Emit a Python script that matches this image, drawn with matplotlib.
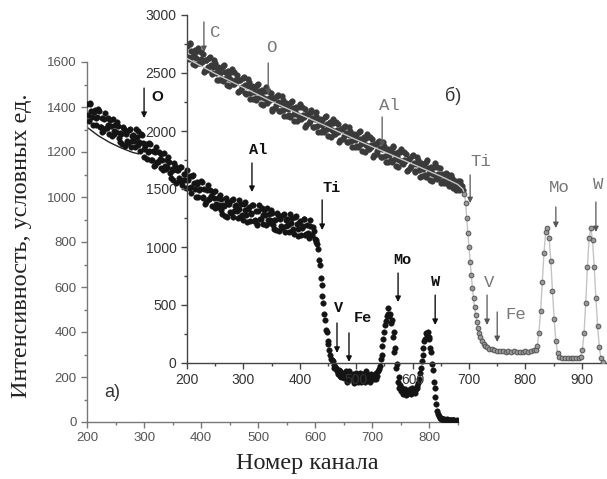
import numpy as np
import matplotlib
matplotlib.use("Agg")
import matplotlib.pyplot as plt
from matplotlib.ticker import MultipleLocator

# ---------------- data: spectrum (a), main axes ----------------
a_channel = np.arange(200, 849, 3)
a_counts = [
    1415, 1339, 1418, 1357, 1376, 1320, 1354, 1383, 1313, 1288,
    1347, 1307, 1352, 1282, 1317, 1348, 1278, 1289, 1314, 1245,
    1280, 1311, 1227, 1284, 1240, 1301, 1247, 1275, 1223, 1267,
    1295, 1205, 1277, 1212, 1227, 1171, 1205, 1235, 1164, 1138,
    1198, 1157, 1201, 1130, 1165, 1194, 1123, 1133, 1157, 1086,
    1120, 1150, 1064, 1118, 1073, 1132, 1076, 1101, 1040, 1074,
    1093, 1018, 1097, 1036, 1056, 1000, 1035, 1068, 997, 971,
    1030, 989, 1033, 962, 996, 1025, 954, 964, 992, 924,
    962, 994, 912, 969, 927, 989, 937, 964, 907, 945,
    968, 896, 979, 922, 945, 893, 931, 964, 897, 875,
    938, 901, 949, 882, 920, 953, 886, 899, 927, 859,
    897, 929, 847, 905, 862, 925, 873, 901, 845, 883,
    906, 834, 917, 860, 883, 831, 869, 902, 835, 842,
    873, 833, 867, 815, 800, 770, 700, 610, 530, 455,
    400, 345, 300, 275, 255, 245, 225, 230, 205, 220,
    195, 215, 180, 225, 190, 205, 175, 220, 195, 210,
    180, 215, 190, 225, 200, 185, 215, 195, 210, 190,
    225, 250, 300, 370, 430, 470, 505, 480, 455, 400,
    330, 260, 200, 165, 150, 135, 145, 125, 140, 130,
    150, 135, 145, 160, 190, 240, 300, 360, 395, 400,
    370, 310, 230, 150, 80, 35, 20, 15, 12, 10,
    12, 8, 10, 7, 9, 6, 8,
]
# second sweep of channels (interleaved readings)
a_channel_2 = np.arange(201.5, 849, 3)
a_counts_2 = [
    1365, 1414, 1383, 1322, 1386, 1350, 1389, 1313, 1353, 1293,
    1372, 1307, 1322, 1342, 1272, 1293, 1318, 1334, 1264, 1285,
    1235, 1301, 1282, 1249, 1300, 1221, 1272, 1250, 1303, 1232,
    1245, 1280, 1242, 1177, 1237, 1201, 1240, 1165, 1204, 1143,
    1223, 1157, 1171, 1190, 1120, 1139, 1163, 1178, 1107, 1126,
    1075, 1140, 1119, 1083, 1133, 1052, 1101, 1076, 1120, 1039,
    1043, 1093, 1062, 1001, 1066, 1030, 1070, 998, 1037, 976,
    1055, 989, 1003, 1022, 951, 970, 994, 1009, 942, 964,
    917, 984, 967, 934, 987, 909, 962, 939, 987, 910,
    918, 971, 944, 887, 955, 923, 966, 894, 937, 880,
    963, 901, 919, 942, 875, 898, 926, 944, 877, 899,
    852, 919, 902, 870, 922, 845, 898, 876, 925, 848,
    856, 909, 882, 825, 893, 861, 904, 832, 875, 817,
    898, 833, 847,
    810, 790, 720, 640, 560, 480, 410, 360, 320, 280,
    270, 240, 240, 215, 225, 200, 215,
    200, 225, 185, 210, 195, 215, 185, 205, 180, 220,
    195, 210, 180, 215, 200, 180, 210, 190, 220, 205,
    235, 280, 340, 400, 450, 480, 470, 440, 380, 310,
    240, 180, 150, 140, 125, 135, 120, 130, 145, 125,
    140, 130, 150, 175, 220, 270, 330, 370, 385, 380,
    330, 260, 180, 110, 50, 25, 18, 14, 12, 9,
    11, 8, 10, 7, 9, 6,
]
a_fit_channel = [200, 220, 240, 260, 280, 290]
a_fit_counts = [1310, 1272, 1242, 1218, 1198, 1192]

# ---------------- data: spectrum (б), inset axes ----------------
b_channel = np.arange(200, 690, 3)
b_counts = [
    2730, 2620, 2756, 2641, 2662, 2567, 2687, 2588, 2683, 2599,
    2509, 2614, 2530, 2630, 2571, 2491, 2616, 2497, 2544, 2440,
    2542, 2434, 2570, 2457, 2478, 2385, 2507, 2408, 2505, 2421,
    2333, 2440, 2356, 2458, 2400, 2322, 2449, 2331, 2379, 2276,
    2378, 2270, 2407, 2295, 2317, 2224, 2346, 2248, 2346, 2263,
    2175, 2283, 2201, 2304, 2247, 2171, 2299, 2182, 2230, 2128,
    2231, 2124, 2262, 2150, 2173, 2082, 2205, 2108, 2206, 2125,
    2038, 2146, 2065, 2168, 2112, 2035, 2163, 2047, 2095, 1994,
    2097, 1990, 2129, 2017, 2041, 1949, 2072, 1976, 2074, 1993,
    1906, 2015, 1933, 2036, 1980, 1903, 2032, 1915, 1963, 1862,
    1965, 1859, 1998, 1886, 1910, 1819, 1942, 1846, 1945, 1864,
    1777, 1886, 1805, 1908, 1852, 1776, 1904, 1788, 1837, 1736,
    1839, 1733, 1872, 1760, 1784, 1693, 1816, 1720, 1819, 1738,
    1651, 1760, 1679, 1782, 1726, 1650, 1778, 1662, 1711, 1610,
    1713, 1607, 1746, 1634, 1658, 1567, 1691, 1594, 1693, 1612,
    1550, 1627, 1555, 1637, 1589, 1527, 1619, 1536, 1568, 1491,
    1568, 1495, 1538, 1495,
]
b_channel_2 = np.arange(201.5, 689, 3)
b_counts_2 = [
    2640, 2750, 2691, 2581, 2697, 2627, 2717, 2583, 2618, 2664,
    2524, 2614, 2550, 2640, 2496, 2556, 2586, 2442, 2554, 2500,
    2452, 2564, 2505, 2397, 2513, 2445, 2537, 2403, 2440, 2486,
    2348, 2440, 2376, 2468, 2325, 2387, 2419, 2276, 2389, 2336,
    2288, 2400, 2342, 2235, 2352, 2284, 2376, 2243, 2281, 2328,
    2190, 2283, 2221, 2314, 2172, 2236, 2269, 2127, 2240, 2188,
    2141, 2254, 2197, 2090, 2208, 2142, 2235, 2103, 2141, 2190,
    2053, 2146, 2085, 2178, 2037, 2100, 2133, 1992, 2105, 2054,
    2007, 2120, 2064, 1957, 2076, 2009, 2102, 1971, 2009, 2058,
    1921, 2015, 1953, 2046, 1905, 1968, 2002, 1860, 1973, 1922,
    1875, 1989, 1933, 1826, 1945, 1879, 1972, 1841, 1880, 1929,
    1792, 1886, 1825, 1918, 1777, 1841, 1874, 1733, 1847, 1796,
    1749, 1863, 1807, 1700, 1819, 1753, 1846, 1715, 1754, 1803,
    1666, 1760, 1699, 1792, 1651, 1715, 1748, 1607, 1721, 1670,
    1623, 1737, 1681, 1574, 1693, 1627, 1721, 1589, 1628, 1677,
    1568, 1620, 1580, 1632, 1543, 1578, 1594, 1505, 1569, 1535,
    1503, 1567, 1530,
]
b_edge_channel = [
    692, 694, 696, 698, 700, 702, 704, 706, 708, 710, 712, 714, 716, 718, 720,
    723, 726, 729, 732, 736, 740,
    745, 750, 755, 760, 765, 770, 775, 780, 785, 790, 795, 800, 805, 810, 815,
    818, 821, 824, 827, 830, 833, 836, 839, 842, 845, 848, 851, 854, 857, 860,
    865, 870, 875, 880, 885, 890, 895,
    898, 901, 904, 907, 910, 913, 916, 919, 922, 925, 928, 931, 934, 937,
]
b_edge_counts = [
    1460, 1380, 1250, 1120, 1000, 870, 760, 650, 560, 480, 410, 350, 300, 260, 225,
    190, 165, 148, 135, 125, 118,
    110, 106, 100, 104, 98, 102, 96, 100, 95, 99, 97, 101, 98, 104, 108,
    115, 150, 260, 450, 700, 950, 1130, 1165, 1080, 880, 620, 380, 190, 90, 55,
    45, 42, 44, 40, 43, 41, 45,
    55, 110, 260, 520, 830, 1080, 1165, 1060, 830, 560, 320, 140, 40, 10,
]
b_fit_channel = [200, 250, 300, 350, 400, 450, 500, 550, 600, 650, 680, 689]
b_fit_counts = [2625, 2495, 2375, 2255, 2145, 2035, 1925, 1820, 1715, 1610, 1540, 1500]

# element markers: (label, arrow x, arrow tail y, arrow tip y, text x, text y)
a_marks = [
    ("O", 300, 1484, 1351, 324, 1444),
    ("Al", 489, 1151, 1022, 500, 1209),
    ("Ti", 612, 987, 853, 629, 1040),
    ("V", 638, 440, 307, 640, 507),
    ("Fe", 659, 396, 267, 683, 462),
    ("Mo", 745, 662, 533, 752, 720),
    ("W", 810, 564, 431, 810, 622),
]
b_marks = [
    ("C", 230, 2940, 2681, 250, 2853),
    ("O", 344, 2586, 2310, 349, 2716),
    ("Al", 546, 2121, 1862, 558, 2216),
    ("Ti", 702, 1621, 1379, 720, 1741),
    ("V", 732, 586, 328, 735, 698),
    ("Fe", 750, 440, 181, 783, 414),
    ("Mo", 854, 1345, 1164, 860, 1517),
    ("W", 925, 1388, 1129, 929, 1543),
]

# ---------------- figure ----------------
fig = plt.figure(figsize=(6.07, 4.79), dpi=100)
fig.patch.set_facecolor("white")

W, H = 607.0, 479.0
ax = fig.add_axes([87 / W, 1 - 422 / H, 371 / W, 360 / H])
axb = fig.add_axes([187 / W, 1 - 363 / H, 423 / W, 348 / H])
axb.patch.set_alpha(0)
ax.patch.set_alpha(0)

# main axes (a)
ax.plot(a_fit_channel, a_fit_counts, color="#222222", lw=1.0, zorder=2)
for xs, ys in ((a_channel, a_counts), (a_channel_2, a_counts_2)):
    ax.plot(xs, ys, "o", ms=4.0, color="#141414", mec="#141414",
            mew=0.3, zorder=3)
ax.set_xlim(200, 850)
ax.set_ylim(0, 1600)
for s in ("top", "right"):
    ax.spines[s].set_visible(False)
for s in ("left", "bottom"):
    ax.spines[s].set_color("#777777")
    ax.spines[s].set_linewidth(1.0)
ax.xaxis.set_major_locator(MultipleLocator(100))
ax.xaxis.set_minor_locator(MultipleLocator(50))
ax.yaxis.set_major_locator(MultipleLocator(200))
ax.yaxis.set_minor_locator(MultipleLocator(100))
ax.set_xticks(range(200, 801, 100))
ax.tick_params(which="major", length=4, color="#777777", labelcolor="#555555",
               labelsize=9.5, width=1)
ax.tick_params(which="minor", length=2.5, color="#777777", width=1)
for lab in ax.get_xticklabels() + ax.get_yticklabels():
    lab.set_family("Liberation Sans")

for name, xa, y0, y1, tx, ty in a_marks:
    ax.annotate("", xy=(xa, y1), xytext=(xa, y0),
                arrowprops=dict(arrowstyle="-|>", lw=1.0, color="#111111",
                                mutation_scale=8, shrinkA=0, shrinkB=0))
    fam = "Liberation Sans" if name == "O" else "Liberation Mono"
    ax.text(tx, ty, name, ha="center", va="center", fontsize=11,
            family=fam, fontweight="bold", color="#111111")
ax.text(245, 133, "а)", ha="center", va="center", fontsize=13,
        family="Liberation Sans", color="#333333")

# inset axes (б)
for xs, ys in ((b_channel, b_counts), (b_channel_2, b_counts_2)):
    axb.plot(xs, ys, "o", ms=4.1, color="#3a3a3a", mec="#3a3a3a",
             mew=0.3, zorder=2)
axb.plot(b_fit_channel + b_edge_channel, b_fit_counts + b_edge_counts,
         color="#c4c4c4", lw=1.0, zorder=3)
axb.plot(b_edge_channel, b_edge_counts, "o", ms=3.4, color="#9a9a9a",
         mec="#555555", mew=0.7, zorder=4)
axb.set_xlim(200, 950)
axb.set_ylim(0, 3000)
for s in ("top", "right"):
    axb.spines[s].set_visible(False)
for s in ("left", "bottom"):
    axb.spines[s].set_color("#444444")
    axb.spines[s].set_linewidth(1.0)
axb.set_xticks(range(200, 901, 100))
axb.xaxis.set_minor_locator(MultipleLocator(50))
axb.yaxis.set_major_locator(MultipleLocator(500))
axb.yaxis.set_minor_locator(MultipleLocator(250))
axb.tick_params(which="major", length=4, color="#444444", labelcolor="#333333",
                labelsize=10, width=1)
axb.tick_params(which="minor", length=2.5, color="#444444", width=1)
for lab in axb.get_xticklabels() + axb.get_yticklabels():
    lab.set_family("Liberation Sans")

for name, xa, y0, y1, tx, ty in b_marks:
    axb.annotate("", xy=(xa, y1), xytext=(xa, y0),
                 arrowprops=dict(arrowstyle="-|>", lw=0.9, color="#555555",
                                 mutation_scale=8, shrinkA=0, shrinkB=0))
    axb.text(tx, ty, name, ha="center", va="center", fontsize=12.5,
             family="Liberation Mono", color="#777777")
axb.text(672, 2302, "б)", ha="center", va="center", fontsize=13,
         family="Liberation Sans", color="#333333")

# axis titles
fig.text(22 / W, 1 - 246 / H, "Интенсивность, условных ед.", rotation=90,
         ha="center", va="center", fontsize=17.5, family="Liberation Serif",
         color="#222222")
fig.text(307 / W, 1 - 463 / H, "Номер канала", ha="center", va="center",
         fontsize=17.5, family="Liberation Serif", color="#222222")

fig.savefig("out.png", dpi=100, facecolor="white")
